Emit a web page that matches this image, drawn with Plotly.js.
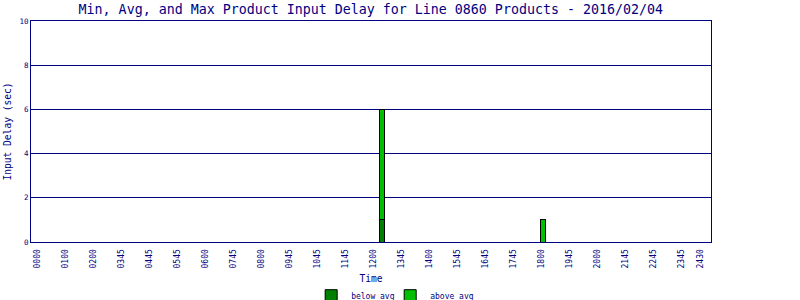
<!DOCTYPE html>
<html>
<head>
<meta charset="utf-8">
<script src="https://cdn.plot.ly/plotly-3.0.1.min.js"></script>
<style>html,body{margin:0;padding:0;background:#fff;}#chart{width:800px;height:300px;}</style>
</head>
<body>
<div id="chart"></div>
<script>
// Data (x in hours of the day)
var barTimes = [12.30, 18.06];
var belowAvg = [1, 0];
var aboveAvg = [5, 1];
var tickHours = [0,1,2,3,4,5,6,7,8,9,10,11,12,13,14,15,16,17,18,19,20,21,22,23,23.67];
var tickLabels = ["0000","0100","0200","0345","0445","0545","0600","0745","0800","0945","1045","1145","1200","1345","1400","1545","1645","1745","1800","1945","2000","2145","2245","2345","2430"];

var NAVY = '#000080';
var MONO = '"DejaVu Sans Mono", "Liberation Mono", monospace';

var traces = [
  {
    type: 'bar', name: 'below avg', x: barTimes, y: belowAvg, width: 0.18,
    marker: {color: '#008000', line: {color: '#000000', width: 1}},
    legend: 'legend'
  },
  {
    type: 'bar', name: 'above avg', x: barTimes, y: aboveAvg, width: 0.18,
    marker: {color: '#00c000', line: {color: '#000000', width: 1}},
    legend: 'legend2'
  }
];

var legendBase = {
  orientation: 'h', yanchor: 'middle', y: -0.243, xanchor: 'left',
  font: {family: MONO, size: 8, color: NAVY},
  itemwidth: 30, bgcolor: 'rgba(0,0,0,0)'
};

var layout = {
  width: 800, height: 300,
  margin: {l: 31, r: 89, t: 20.5, b: 58, pad: 0, autoexpand: false},
  paper_bgcolor: '#ffffff', plot_bgcolor: '#ffffff',
  barmode: 'stack',
  font: {family: MONO, color: NAVY},
  title: {
    text: 'Min, Avg, and Max Product Input Delay for Line 0860 Products - 2016/02/04',
    font: {family: MONO, size: 13.3, color: NAVY},
    x: 0.4635, xanchor: 'center', y: 0.968, yanchor: 'middle'
  },
  xaxis: {
    range: [-0.243, 24.06],
    tickmode: 'array', tickvals: tickHours, ticktext: tickLabels,
    tickangle: -90, tickfont: {family: MONO, size: 8, color: NAVY},
    ticklabelstandoff: 3,
    ticks: '', showgrid: false, zeroline: false,
    showline: true, linecolor: NAVY, linewidth: 1, mirror: true,
    title: {text: 'Time', font: {family: MONO, size: 9.6, color: NAVY}, standoff: 7}
  },
  yaxis: {
    range: [0, 10], dtick: 2, tick0: 0,
    tickfont: {family: MONO, size: 7.5, color: NAVY},
    ticks: '', showgrid: true, gridcolor: NAVY, gridwidth: 1, zeroline: false,
    showline: true, linecolor: NAVY, linewidth: 1, mirror: true,
    title: {text: 'Input Delay (sec)', font: {family: MONO, size: 9.6, color: NAVY}, standoff: 6}
  },
  showlegend: true,
  legend: Object.assign({}, legendBase, {x: 0.412}),
  legend2: Object.assign({}, legendBase, {x: 0.5282})
};

Plotly.newPlot('chart', traces, layout, {staticPlot: true, displayModeBar: false});
</script>
</body>
</html>
